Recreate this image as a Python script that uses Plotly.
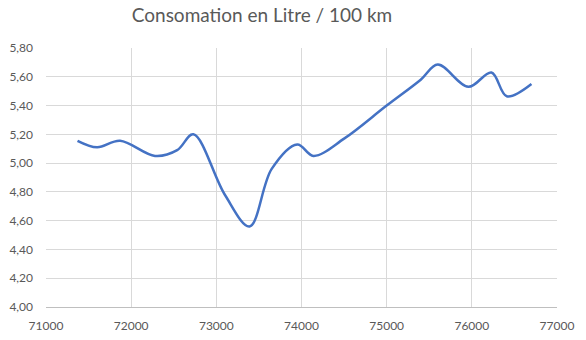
import plotly.graph_objects as go

km = [71370, 71600, 71870, 72280, 72540, 72730, 73100, 73390, 73650, 73950,
      74140, 74500, 75000, 75400, 75600, 75960, 76230, 76410, 76700]
conso = [5.155, 5.11, 5.155, 5.05, 5.09, 5.20, 4.78, 4.56, 4.96, 5.13,
         5.05, 5.17, 5.40, 5.58, 5.685, 5.53, 5.63, 5.465, 5.55]

title_text = "Consomation en Litre / 100 km"
font_family = "Lato, 'Open Sans', sans-serif"

W, H = 586, 340

fig = go.Figure()
fig.add_trace(go.Scatter(
    x=km, y=conso, mode="lines",
    line=dict(color="#4472C4", width=2.5, shape="spline", smoothing=1.0),
    hoverinfo="x+y", showlegend=False,
))

fig.update_layout(
    width=W, height=H,
    margin=dict(l=46, r=29, t=48, b=33, autoexpand=False),
    paper_bgcolor="white", plot_bgcolor="white",
    separators=", ",
    title=dict(text=title_text, x=262 / W, xanchor="center",
               y=1 - 15 / H, yanchor="middle",
               xref="container", yref="container",
               font=dict(family=font_family, size=19, color="#595959")),
    font=dict(family=font_family, size=12, color="#595959"),
)
fig.update_xaxes(
    range=[71000, 77000], dtick=1000, tick0=71000, tickformat="d",
    showgrid=True, gridcolor="#d9d9d9", gridwidth=1,
    showline=True, linecolor="#bfbfbf", linewidth=1,
    zeroline=False, ticks="", ticklabelstandoff=8, automargin=False,
    tickfont=dict(size=12, color="#595959"),
)
fig.update_yaxes(
    range=[4.0, 5.8], dtick=0.2, tick0=4.0, tickformat=".2f",
    showgrid=True, gridcolor="#d9d9d9", gridwidth=1,
    showline=False, zeroline=False, ticks="", ticklabelstandoff=12,
    automargin=False,
    tickfont=dict(size=12, color="#595959"),
)

fig.write_html("out.html",
               config={"displayModeBar": False},
               post_script="document.body.style.margin='0';document.body.style.padding='0';")
